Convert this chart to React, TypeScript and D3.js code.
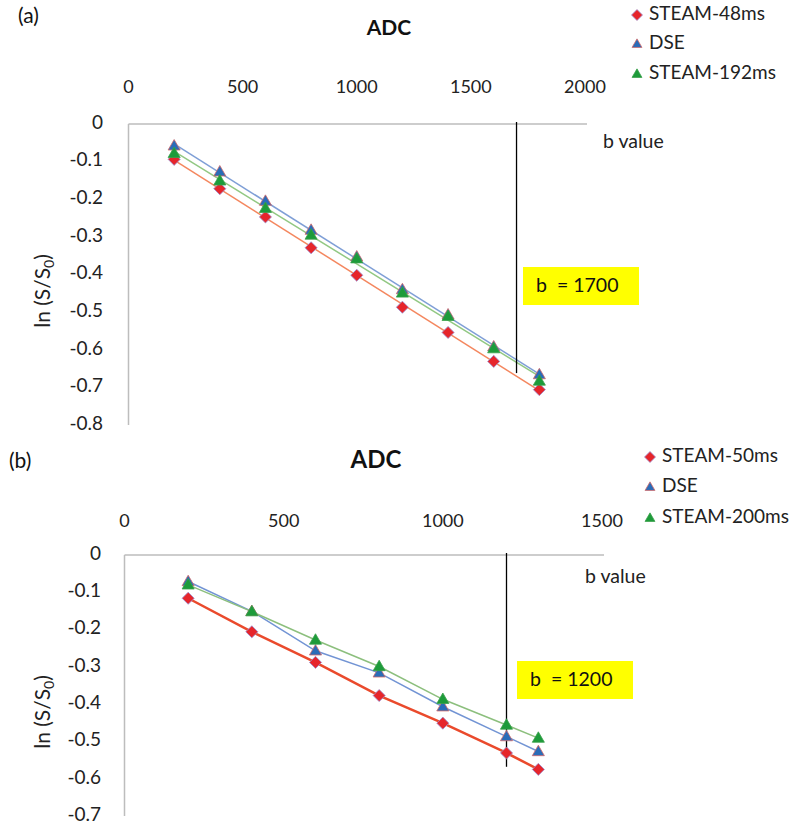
import React from "react";
import * as d3 from "d3";

// ---------- Data ----------
const bValuesA = [200, 400, 600, 800, 1000, 1200, 1400, 1600, 1800];
const steam48 = [-0.094, -0.172, -0.247, -0.329, -0.402, -0.487, -0.554, -0.631, -0.706];
const dseA = [-0.058, -0.127, -0.205, -0.282, -0.353, -0.44, -0.507, -0.592, -0.666];
const steam192 = [-0.078, -0.151, -0.224, -0.295, -0.358, -0.449, -0.511, -0.597, -0.683];

const bValuesB = [200, 400, 600, 800, 1000, 1200, 1300];
const steam50 = [-0.116, -0.206, -0.288, -0.377, -0.451, -0.531, -0.575];
const dseB = [-0.071, -0.151, -0.257, -0.316, -0.407, -0.487, -0.527];
const steam200 = [-0.08, -0.152, -0.228, -0.299, -0.387, -0.456, -0.491];

const xTicksA = [0, 500, 1000, 1500, 2000];
const yTicksA = [0, -0.1, -0.2, -0.3, -0.4, -0.5, -0.6, -0.7, -0.8];
const xTicksB = [0, 500, 1000, 1500];
const yTicksB = [0, -0.1, -0.2, -0.3, -0.4, -0.5, -0.6, -0.7];

const legendA = ["STEAM-48ms", "DSE", "STEAM-192ms"];
const legendB = ["STEAM-50ms", "DSE", "STEAM-200ms"];

const cutoffA = { b: 1700, y: -0.662, label: "b  = 1700" };
const cutoffB = { b: 1200, y: -0.568, label: "b  = 1200" };

const FONT = "Lato, 'Open Sans', sans-serif";

const markerFill = ["#e6252b", "#2a6cb8", "#1d9b3a"];
const markerStroke = ["#9a8fd0", "#d36a6a", "#3aa04a"];

function regression(xs: number[], ys: number[]) {
  const mx = d3.mean(xs) as number;
  const my = d3.mean(ys) as number;
  let num = 0;
  let den = 0;
  xs.forEach((x, i) => {
    num += (x - mx) * (ys[i] - my);
    den += (x - mx) * (x - mx);
  });
  const slope = num / den;
  return (x: number) => my + slope * (x - mx);
}

function Marker({ kind, x, y, s }: { kind: number; x: number; y: number; s: number }) {
  if (kind === 0) {
    const r = s * 0.55;
    return (
      <path
        d={`M${x},${y - r}L${x + r},${y}L${x},${y + r}L${x - r},${y}Z`}
        fill={markerFill[0]}
        stroke={markerStroke[0]}
        strokeWidth={0.8}
      />
    );
  }
  const h = s * 0.95;
  const w = s * 1.1;
  return (
    <path
      d={`M${x},${y - h * 0.6}L${x + w / 2},${y + h * 0.4}L${x - w / 2},${y + h * 0.4}Z`}
      fill={markerFill[kind]}
      stroke={markerStroke[kind]}
      strokeWidth={0.8}
    />
  );
}

type PanelProps = {
  tag: string;
  tagX: number;
  tagY: number;
  titleX: number;
  titleY: number;
  titleSize: number;
  xDomain: [number, number];
  xRange: [number, number];
  yDomain: [number, number];
  yRange: [number, number];
  xTicks: number[];
  yTicks: number[];
  xLabelY: number;
  yLabelX: number;
  yTitleX: number;
  yTitleY: number;
  bValueX: number;
  bValueY: number;
  bvals: number[];
  series: number[][];
  lineColors: string[];
  lineWidths: number[];
  fit: boolean;
  legend: string[];
  legendX: number;
  legendYs: number[];
  cutoff: { b: number; y: number; label: string };
  box: [number, number, number, number];
};

function Panel(p: PanelProps) {
  const x = d3.scaleLinear().domain(p.xDomain).range(p.xRange);
  const y = d3.scaleLinear().domain(p.yDomain).range(p.yRange);
  const line = d3
    .line<[number, number]>()
    .x((d) => x(d[0]))
    .y((d) => y(d[1]));
  const axisColor = "#bdbdbd";
  return (
    <g>
      <text x={p.tagX} y={p.tagY} fontFamily={FONT} fontSize={21} dominantBaseline="middle" fill="#111">
        {p.tag}
      </text>
      <text
        x={p.titleX}
        y={p.titleY}
        fontFamily={FONT}
        fontSize={p.titleSize}
        fontWeight="bold"
        textAnchor="middle"
        dominantBaseline="middle"
        fill="#111"
      >
        ADC
      </text>
      {/* axes */}
      <line x1={x(p.xDomain[0])} x2={x(p.xDomain[1]) + 2} y1={y(0)} y2={y(0)} stroke={axisColor} strokeWidth={1.5} />
      <line x1={x(0)} x2={x(0)} y1={y(0)} y2={y(p.yDomain[1])} stroke={axisColor} strokeWidth={1.5} />
      {p.xTicks.map((t) => (
        <text
          key={"xt" + t}
          x={x(t)}
          y={p.xLabelY}
          fontFamily={FONT}
          fontSize={18}
          textAnchor="middle"
          dominantBaseline="middle"
          fill="#222"
        >
          {t}
        </text>
      ))}
      {p.yTicks.map((t) => (
        <text
          key={"yt" + t}
          x={p.yLabelX}
          y={y(t)}
          fontFamily={FONT}
          fontSize={19}
          textAnchor="end"
          dominantBaseline="middle"
          fill="#222"
        >
          {t === 0 ? "0" : String(t)}
        </text>
      ))}
      <text
        transform={`translate(${p.yTitleX},${p.yTitleY}) rotate(-90)`}
        fontFamily={FONT}
        fontSize={21}
        textAnchor="middle"
        dominantBaseline="middle"
        fill="#222"
      >
        ln (S/S<tspan fontSize={14} dy={5}>0</tspan>
        <tspan dy={-5}>)</tspan>
      </text>
      <text x={p.bValueX} y={p.bValueY} fontFamily={FONT} fontSize={19.5} dominantBaseline="middle" fill="#222">
        b value
      </text>
      {/* lines */}
      {p.series.map((s, i) => {
        let pts: [number, number][];
        if (p.fit) {
          const f = regression(p.bvals, s);
          const b0 = p.bvals[0];
          const b1 = p.bvals[p.bvals.length - 1];
          pts = [
            [b0, f(b0)],
            [b1, f(b1)],
          ];
        } else {
          pts = p.bvals.map((b, j) => [b, s[j]] as [number, number]);
        }
        return (
          <path key={"l" + i} d={line(pts) || ""} fill="none" stroke={p.lineColors[i]} strokeWidth={p.lineWidths[i]} />
        );
      })}
      {/* cutoff line */}
      <line
        x1={x(p.cutoff.b)}
        x2={x(p.cutoff.b)}
        y1={y(0) - 2}
        y2={y(p.cutoff.y)}
        stroke="#000"
        strokeWidth={1.3}
      />
      {/* markers */}
      {p.series.map((s, i) =>
        s.map((v, j) => <Marker key={`m${i}-${j}`} kind={i} x={x(p.bvals[j])} y={y(v)} s={11} />)
      )}
      {/* yellow box */}
      <rect x={p.box[0]} y={p.box[1]} width={p.box[2]} height={p.box[3]} fill="#ffff00" />
      <text
        x={p.box[0] + 13}
        y={p.box[1] + p.box[3] / 2 + 1}
        fontFamily={FONT}
        fontSize={19.5}
        dominantBaseline="middle"
        fill="#111"
        style={{ whiteSpace: "pre" }}
      >
        {p.cutoff.label}
      </text>
      {/* legend */}
      {p.legend.map((name, i) => (
        <g key={"lg" + i}>
          <Marker kind={i} x={p.legendX} y={p.legendYs[i]} s={i === 0 ? 10 : 9} />
          <text
            x={p.legendX + 12}
            y={p.legendYs[i]}
            fontFamily={FONT}
            fontSize={19}
            dominantBaseline="middle"
            fill="#222"
          >
            {name}
          </text>
        </g>
      ))}
    </g>
  );
}

export default function App() {
  return (
    <svg
      width={802}
      height={833}
      style={{ position: "absolute", left: 0, top: 0, background: "#fff" }}
    >
      <rect width={802} height={833} fill="#fff" />
      <Panel
        tag="(a)"
        tagX={18}
        tagY={18}
        titleX={389}
        titleY={30}
        titleSize={21}
        xDomain={[0, 2000]}
        xRange={[128.5, 585]}
        yDomain={[0, -0.8]}
        yRange={[124, 425]}
        xTicks={xTicksA}
        yTicks={yTicksA}
        xLabelY={88}
        yLabelX={103}
        yTitleX={45}
        yTitleY={291}
        bValueX={603}
        bValueY={143}
        bvals={bValuesA}
        series={[steam48, dseA, steam192]}
        lineColors={["#f4875f", "#7f9fd6", "#92c883"]}
        lineWidths={[1.5, 1.5, 1.5]}
        fit={true}
        legend={legendA}
        legendX={637}
        legendYs={[15, 44, 74]}
        cutoff={cutoffA}
        box={[523, 267, 116, 38]}
      />
      <Panel
        tag="(b)"
        tagX={9}
        tagY={463}
        titleX={376}
        titleY={462}
        titleSize={24}
        xDomain={[0, 1500]}
        xRange={[124.5, 602]}
        yDomain={[0, -0.7]}
        yRange={[555, 816]}
        xTicks={xTicksB}
        yTicks={yTicksB}
        xLabelY={522}
        yLabelX={101}
        yTitleX={45}
        yTitleY={712}
        bValueX={585}
        bValueY={578}
        bvals={bValuesB}
        series={[steam50, dseB, steam200]}
        lineColors={["#ea4a2c", "#7294d4", "#8cbf7d"]}
        lineWidths={[2.5, 1.5, 1.5]}
        fit={false}
        legend={legendB}
        legendX={650}
        legendYs={[457, 487, 518]}
        cutoff={cutoffB}
        box={[517, 661, 116, 38]}
      />
    </svg>
  );
}
